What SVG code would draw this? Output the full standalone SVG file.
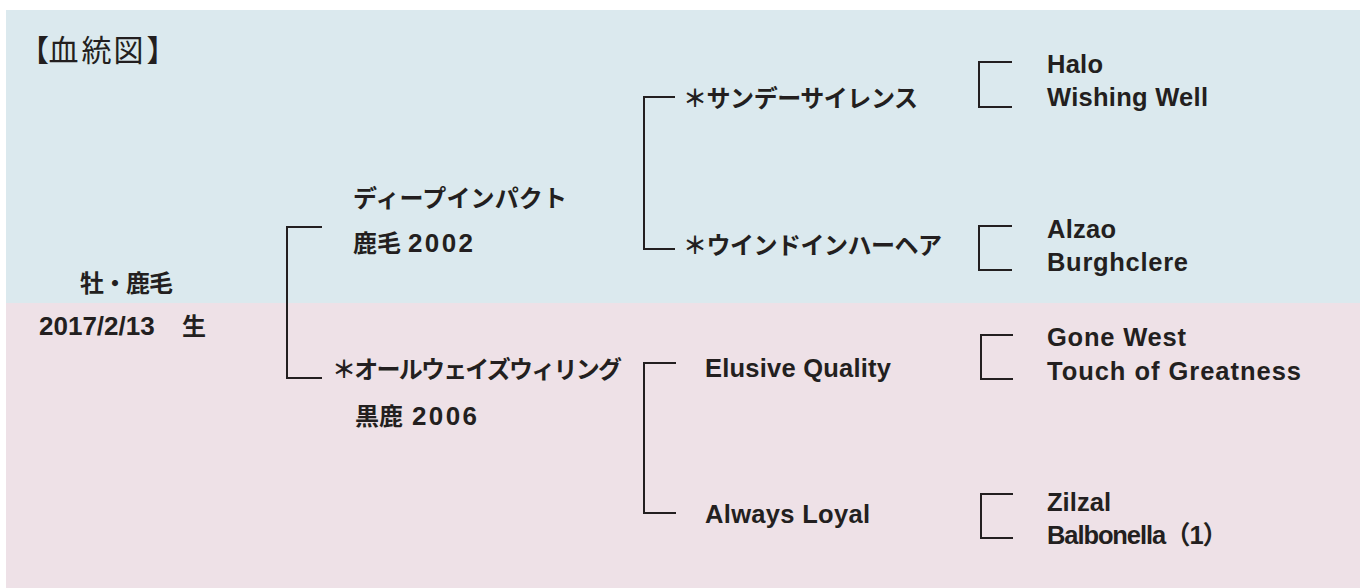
<svg xmlns="http://www.w3.org/2000/svg" width="1360" height="588" viewBox="0 0 1360 588">
<style>
.t{font-family:"Liberation Sans","Noto Sans CJK JP",sans-serif;font-weight:700;fill:#231f20}
.j{font-size:24px}
.e{font-size:25.5px}
.d{font-size:26px}
.title{font-family:"Noto Sans CJK JP",sans-serif;font-weight:400;font-size:30px;fill:#231f20}
.c{fill:none;stroke:#231f20;stroke-width:2}
</style>
<rect x="6" y="10" width="1354" height="293" fill="#dbe9ee"/>
<rect x="6" y="303" width="1354" height="285" fill="#eee1e7"/>
<text id="title" class="title" x="19 48.5 81.5 113.5 146.5" y="61">【血統図】</text>
<g id="connectors">
<path class="c" d="M322,227H287V378H322"/>
<path class="c" d="M675,97H644V249H675"/>
<path class="c" d="M676,363H644V513H676"/>
<path class="c" d="M1012,62H979V107H1012"/>
<path class="c" d="M1012,226H979V270H1012"/>
<path class="c" d="M1013,335H981V379H1013"/>
<path class="c" d="M1013,494H981V538H1013"/>
</g>
<g id="self"><text class="t j" x="80" y="292" textLength="93">牡・鹿毛</text><text class="t d" x="39" y="335">2017/2/13</text><text class="t j" x="182" y="335">生</text></g>
<g id="sire"><text class="t j" x="353" y="207" textLength="214">ディープインパクト</text><text class="t j" x="353" y="252">鹿毛<tspan class="d" x="408" textLength="65">2002</tspan></text></g>
<g id="dam"><text class="t j" x="332" y="378" textLength="290">＊オールウェイズウィリング</text><text class="t j" x="355" y="425">黒鹿<tspan class="d" x="412" textLength="65">2006</tspan></text></g>
<g id="ss"><text class="t j" x="683" y="107" textLength="235">＊サンデーサイレンス</text></g>
<g id="wh"><text class="t j" x="683" y="254" textLength="259">＊ウインドインハーヘア</text></g>
<g id="eq"><text class="t e" x="705" y="377" textLength="186">Elusive Quality</text></g>
<g id="al"><text class="t e" x="705" y="523" textLength="165">Always Loyal</text></g>
<g id="halo"><text class="t e" x="1047" y="73" textLength="56">Halo</text><text class="t e" x="1047" y="106" textLength="161">Wishing Well</text></g>
<g id="alzao"><text class="t e" x="1047" y="238" textLength="69">Alzao</text><text class="t e" x="1047" y="271" textLength="141">Burghclere</text></g>
<g id="gw"><text class="t e" x="1047" y="346" textLength="139">Gone West</text><text class="t e" x="1047" y="380" textLength="254">Touch of Greatness</text></g>
<g id="zil"><text class="t e" x="1047" y="511" textLength="64">Zilzal</text><text class="t e" x="1047" y="544" textLength="181">Balbonella（1）</text></g>
</svg>
